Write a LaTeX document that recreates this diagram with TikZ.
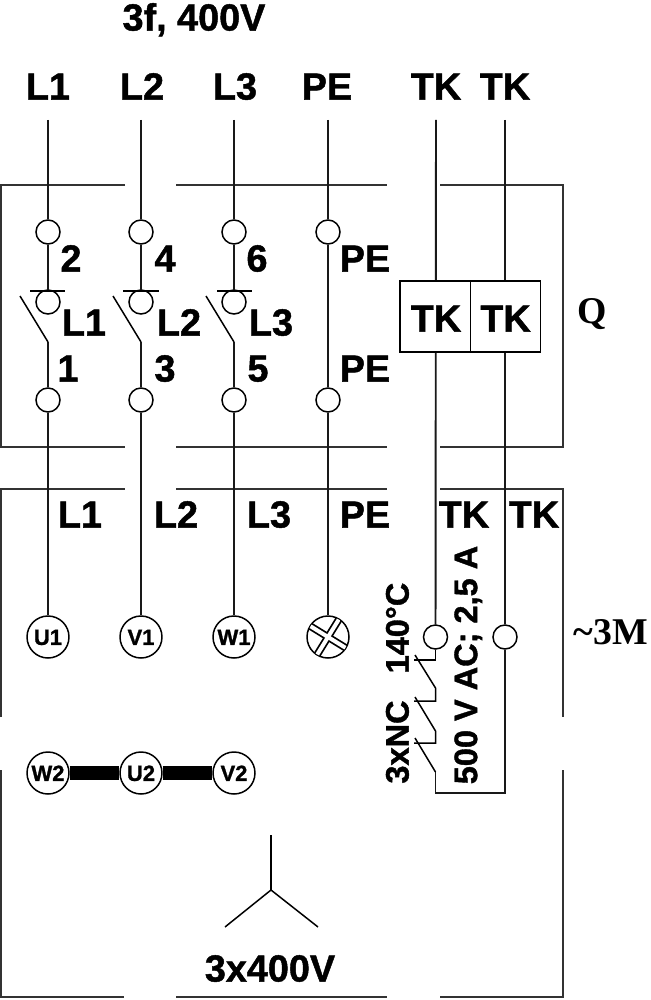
\documentclass[tikz,border=0pt]{standalone}
\usepackage{fontspec}
\setmainfont{Liberation Sans}[BoldFeatures={FakeBold=1.2}]
\newfontfamily\serifbold[BoldFont={Liberation Serif Bold}]{Liberation Serif}
\newcommand{\bigtxt}{\fontsize{21.5}{24}\selectfont\bfseries}
\newcommand{\sidetxt}{\fontsize{18.5}{20}\selectfont\bfseries}
\newcommand{\smalltxt}{\fontsize{12.5}{14}\selectfont\bfseries}

\begin{document}
\begin{tikzpicture}[x=0.02cm,y=-0.02cm]
	\tikzset{wire/.style={line width=1.1pt,draw=black!90}}
	\tikzset{thin wire/.style={line width=0.85pt}}
	\tikzset{frame/.style={line width=1.1pt,draw=black!80}}
	\tikzset{txt/.style={font=\bigtxt,inner sep=0pt,text height=15.4pt,text depth=0pt}}
	\tikzset{sidetext/.style={font=\sidetxt,inner sep=0pt,text height=13.2pt,text depth=0pt}}
	\tikzset{klem/.style={circle,draw,thin wire,fill=white,minimum size=0.48cm,inner sep=0pt}}
	\tikzset{coil/.style={circle,draw,thin wire,fill=white,minimum size=0.84cm,inner sep=0pt,font=\smalltxt,text height=9pt,text depth=0pt}}
	\tikzset{cell/.style={draw,thin wire,fill=white,minimum height=1.42cm,inner sep=0pt}}
	\useasboundingbox (0,0) rectangle (651,1000);

	% supply
	\node[txt] (title) at (194,17) {3f, 400V};
	\node[txt] (inL1) at (48,86) {L1};
	\node[txt] (inL2) at (142,86) {L2};
	\node[txt] (inL3) at (235,86) {L3};
	\node[txt] (inPE) at (327,86) {PE};
	\node[txt] (inTKa) at (436,86) {TK};
	\node[txt] (inTKb) at (505,86) {TK};
	\coordinate (topL1) at (48,120);
	\coordinate (topL2) at (141,120);
	\coordinate (topL3) at (234,120);
	\coordinate (topPE) at (328,120);
	\coordinate (topTKa) at (436,120);
	\coordinate (topTKb) at (505,120);

	% frames, upper one
	\draw[frame] (125,185) -- (1,185) -- (1,447) -- (125,447);
	\draw[frame] (176,185) -- (387,185);
	\draw[frame] (176,447) -- (387,447);
	\draw[frame] (440,185) -- (563,185) -- (563,447) -- (440,447);
	% frames, lower one
	\draw[frame] (1,717) -- (1,489) -- (125,489);
	\draw[frame] (176,489) -- (387,489);
	\draw[frame] (440,489) -- (563,489) -- (563,717);
	\draw[frame] (1,770) -- (1,997) -- (124,997);
	\draw[frame] (176,997) -- (387,997);
	\draw[frame] (440,997) -- (563,997) -- (563,770);

	% terminals
	\node[klem] (a1) at (48,232) {};
	\node[klem] (a2) at (141,232) {};
	\node[klem] (a3) at (234,232) {};
	\node[klem] (a4) at (328,232) {};
	\coordinate (b1) at (48,291);
	\coordinate (b2) at (141,291);
	\coordinate (b3) at (234,291);
	\node[klem] (c1) at (48,302) {};
	\node[klem] (c2) at (141,302) {};
	\node[klem] (c3) at (234,302) {};
	\coordinate (s1) at (48,342);
	\coordinate (s2) at (141,342);
	\coordinate (s3) at (234,342);
	\node[klem] (d1) at (48,400) {};
	\node[klem] (d2) at (141,400) {};
	\node[klem] (d3) at (234,400) {};
	\node[klem] (d4) at (328,400) {};

	% motor windings
	\node[coil] (U1) at (48,637) {U1};
	\node[coil] (V1) at (141,637) {V1};
	\node[coil] (W1) at (234,637) {W1};
	\node[coil] (lamp) at (328,637) {};
	\node[coil] (W2) at (48,773) {W2};
	\node[coil] (U2) at (141,773) {U2};
	\node[coil] (V2) at (234,773) {V2};
	\draw[line width=0.28cm] (W2) -- (U2);
	\draw[line width=0.28cm] (U2) -- (V2);

	\begin{scope}
		\clip (lamp.center) circle (20.5);
		\draw[line width=0.15cm] (302,621) -- (354,653);
		\draw[line width=0.15cm] (344,611) -- (312,663);
		\draw[line width=0.08cm,white] (302,621) -- (354,653);
		\draw[line width=0.08cm,white] (344,611) -- (312,663);
	\end{scope}

	% phases
	\draw[wire] (topL1) -- (a1);
	\draw[wire] (topL2) -- (a2);
	\draw[wire] (topL3) -- (a3);
	\draw[wire] (topPE) -- (a4);
	\draw[wire] (a1) -- (b1);
	\draw[wire] (a2) -- (b2);
	\draw[wire] (a3) -- (b3);
	\draw[wire] (a4) -- (d4);
	\draw[wire] (s1) -- (d1);
	\draw[wire] (s2) -- (d2);
	\draw[wire] (s3) -- (d3);
	\draw[wire] (d1) -- (U1);
	\draw[wire] (d2) -- (V1);
	\draw[wire] (d3) -- (W1);
	\draw[wire] (d4) -- (lamp);

	% contacts
	\draw[thin wire] (30,291) -- (65,291);
	\draw[thin wire] (123,291) -- (159,291);
	\draw[thin wire] (217,291) -- (252,291);
	\draw[thin wire] (s1) -- (20,296);
	\draw[thin wire] (s2) -- (113,296);
	\draw[thin wire] (s3) -- (206,296);

	% labels
	\node[txt] (n2) at (71,258) {2};
	\node[txt] (n4) at (165,258) {4};
	\node[txt] (n6) at (257,258) {6};
	\node[txt] (pe1) at (365,258) {PE};
	\node[txt] (n1) at (84,322) {L1};
	\node[txt] (n3) at (179,322) {L2};
	\node[txt] (n5) at (271,322) {L3};
	\node[txt] (m1) at (68,368) {1};
	\node[txt] (m3) at (165,368) {3};
	\node[txt] (m5) at (258,368) {5};
	\node[txt] (pe2) at (365,368) {PE};
	\node[txt] (outL1) at (80,514) {L1};
	\node[txt] (outL2) at (176,514) {L2};
	\node[txt] (outL3) at (269,514) {L3};
	\node[txt] (outPE) at (365,514) {PE};
	\node[txt] (outTKa) at (464,514) {TK};
	\node[txt] (outTKb) at (534,514) {TK};

	% thermal contact
	\node[klem] (tka) at (435.5,637) {};
	\node[klem] (tkb) at (505,637) {};
	\coordinate (e) at (435.5,793);
	\coordinate (f) at (505,793);
	\draw[wire] (topTKa) -- (tka);
	\draw[wire] (topTKb) -- (tkb);
	\draw[wire] (tkb) -- (f) -- (e) -- (435.5,772);
	\draw[thin wire] (tka) -- (435.5,660) -- (414,660);
	\draw[thin wire] (415,655) -- (435.5,688) -- (435.5,701) -- (414,701);
	\draw[thin wire] (415,697) -- (435.5,731) -- (435.5,743) -- (414,743);
	\draw[thin wire] (415,738) -- (435.5,772);

	% box
	\node[cell,minimum width=1.414cm] (boxa) at (435.35,316.5) {};
	\node[cell,minimum width=1.4cm] (boxb) at (505.7,316.5) {};
	\node[txt] (boxtxta) at (436,318) {TK};
	\node[txt] (boxtxtb) at (505.5,318) {TK};

	% side labels
	\node[font=\serifbold\bigtxt,inner sep=0pt] (q) at (592,314) {Q};
	\node[font=\serifbold\bigtxt,inner sep=0pt] (mot) at (611,632) {\textasciitilde 3M};
	\node[sidetext,rotate=90] (deg) at (397,628) {140°C};
	\node[sidetext,rotate=90] (nc) at (397,742) {3xNC};
	\node[sidetext,rotate=90] (volt) at (465.5,665) {500 V AC; 2,5 A};

	% star
	\coordinate (st) at (271,890);
	\draw[thin wire] (st) -- (271,835);
	\draw[thin wire] (st) -- (225,927);
	\draw[thin wire] (st) -- (318,927);
	\node[txt] (volts) at (270,968) {3x400V};
\end{tikzpicture}
\end{document}
